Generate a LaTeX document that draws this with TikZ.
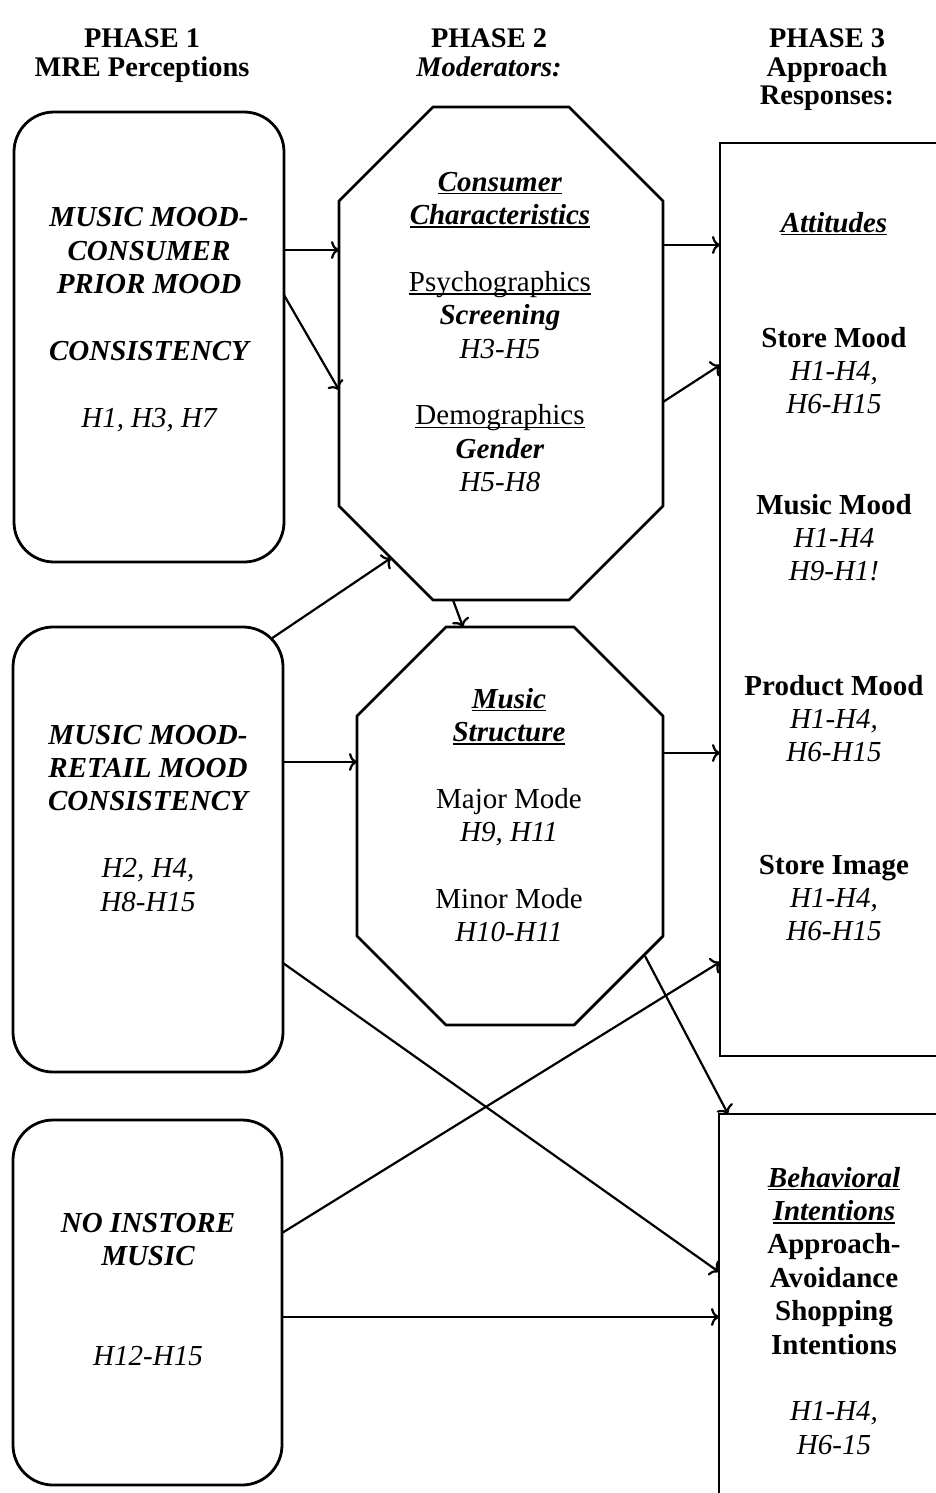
\documentclass[tikz,border=0pt]{standalone}
\usepackage{fontspec}
\setmainfont{Liberation Serif}
\usetikzlibrary{calc,arrows.meta}
\newcommand\octoutline[2]{%
  \draw[shp] ($(#1.north west)+(#2,0)$) -- ($(#1.north east)+(-#2,0)$) -- ($(#1.north east)+(0,#2)$)
    -- ($(#1.south east)+(0,-#2)$) -- ($(#1.south east)+(-#2,0)$) -- ($(#1.south west)+(#2,0)$)
    -- ($(#1.south west)+(0,-#2)$) -- ($(#1.north west)+(0,#2)$) -- cycle;}
\newcommand\myul[1]{\setbox0\hbox{#1}\rlap{\rule[-1.6pt]{\wd0}{0.65pt}}\box0}
\begin{document}
\begin{tikzpicture}[x=0.5pt,y=-0.5pt,
  shp/.style={draw, line width=1.4pt, line join=round},
  boxr/.style={draw, line width=1.4pt, rounded corners=20pt, inner sep=0pt, outer sep=0pt},
  octn/.style={inner sep=0pt, outer sep=0pt},
  rbox/.style={draw, line width=1.1pt, inner sep=0pt, outer sep=0pt},
  txt/.style={align=center, inner sep=0pt, anchor=north, font=\fontsize{14.5}{16.7}\selectfont},
  hdr/.style={align=center, inner sep=0pt, anchor=north, font=\fontsize{14.2}{14.4}\selectfont\bfseries},
  arr/.style={line width=1.1pt, -{To[length=4pt,width=9pt]}}]
\useasboundingbox (0,0) rectangle (936,1493);
\clip (0,0) rectangle (936,1493);

% headers
\node[hdr] (h1) at (142,28) {PHASE 1\\MRE Perceptions};
\node[hdr] (h2) at (489,28) {PHASE 2\\\textit{Moderators:}};
\node[hdr] (h3) at (827,28) {PHASE 3\\Approach\\Responses:};

% phase 1 boxes
\node[boxr, minimum width=135pt, minimum height=225pt] (box1) at (149,337) {};
\node[boxr, minimum width=135pt, minimum height=222.5pt] (box2) at (148,849.5) {};
\node[boxr, minimum width=134.5pt, minimum height=182.5pt] (box3) at (147.5,1302.5) {};

\node[txt, font=\fontsize{14.5}{16.7}\selectfont\bfseries\itshape] (t1) at (149,207)
  {MUSIC MOOD-\\CONSUMER\\PRIOR MOOD\\[16.7pt]CONSISTENCY\\[16.7pt]\mdseries H1, H3, H7};
\node[txt, font=\fontsize{14.5}{16.7}\selectfont\bfseries\itshape] (t2) at (148,724.5)
  {MUSIC MOOD-\\RETAIL MOOD\\CONSISTENCY\\[16.7pt]\mdseries H2, H4,\\\mdseries H8-H15};
\node[txt, font=\fontsize{14.5}{16.7}\selectfont\bfseries\itshape] (t3) at (148,1212.5)
  {NO INSTORE\\MUSIC\\[33.4pt]\mdseries H12-H15};

% phase 2 octagons
\node[octn, minimum width=162pt, minimum height=246.5pt] (oct1) at (501,353.5) {};
\octoutline{oct1}{94}
\node[octn, minimum width=153pt, minimum height=199pt] (oct2) at (510,826) {};
\octoutline{oct2}{89}

\node[txt] (to1) at (500,171.5)
  {\myul{\textbf{\textit{Consumer}}}\\\myul{\textbf{\textit{Characteristics}}}\\[16.7pt]
   \myul{Psychographics}\\\textbf{\textit{Screening}}\\\textit{H3-H5}\\[16.7pt]
   \myul{Demographics}\\\textbf{\textit{Gender}}\\\textit{H5-H8}};
\node[txt] (to2) at (509,687.5)
  {\myul{\textbf{\textit{Music}}}\\\myul{\textbf{\textit{Structure}}}\\[16.7pt]
   Major Mode\\\textit{H9, H11}\\[16.7pt]Minor Mode\\\textit{H10-H11}};

% phase 3 boxes
\node[rbox, minimum width=110pt, minimum height=456.5pt] (att) at (830,599.5) {};
\node[rbox, minimum width=110.5pt, minimum height=200pt] (beh) at (829.5,1314) {};

\node[txt] (a0) at (834,211.5) {\myul{\textbf{\textit{Attitudes}}}};
\node[txt] (a1) at (834,326.5) {\textbf{Store Mood}\\\textit{H1-H4,}\\\textit{H6-H15}};
\node[txt] (a2) at (834,493.5) {\textbf{Music Mood}\\\textit{H1-H4}\\\textit{H9-H1!}};
\node[txt] (a3) at (834,674.5) {\textbf{Product Mood}\\\textit{H1-H4,}\\\textit{H6-H15}};
\node[txt] (a4) at (834,854.5) {\textbf{Store Image}\\\textit{H1-H4,}\\\textit{H6-H15}};
\node[txt] (bt) at (834,1166.5)
  {\myul{\textbf{\textit{Behavioral}}}\\\myul{\textbf{\textit{Intentions}}}\\
   \textbf{Approach-}\\\textbf{Avoidance}\\\textbf{Shopping}\\\textbf{Intentions}\\[16.7pt]
   \textit{H1-H4,}\\\textit{H6-15}};

% connectors
\draw[arr] (box1.east |- 0,250) -- (oct1.west |- 0,250);
\draw[arr] (box1.east |- 0,295) -- (oct1.west |- 0,390);
\draw[arr] (oct1.east |- 0,245) -- (att.west |- 0,245);
\draw[arr] (oct1.east |- 0,402) -- (att.west |- 0,365);
\coordinate (b2c) at ($(box2.north east)+(-11.7,11.7)$);
\draw[arr] (b2c) -- ($(oct1.south west)+(52,-42)$);
\draw[arr] ($(oct1.south west)+(114,0)$) -- ($(oct2.north west)+(106,0)$);
\draw[arr] (box2.east |- 0,762) -- (oct2.west |- 0,762);
\draw[arr] (oct2.east |- 0,753) -- (att.west |- 0,753);
\draw[arr] (box2.east |- 0,963) -- (beh.west |- 0,1272);
\draw[arr] (box3.east |- 0,1233) -- (att.west |- 0,962);
\draw[arr] ($(oct2.south east)+(-18,-69)$) -- ($(beh.north west)+(9,0)$);
\draw[arr] (box3.east |- 0,1317) -- (beh.west |- 0,1317);
\end{tikzpicture}
\end{document}
